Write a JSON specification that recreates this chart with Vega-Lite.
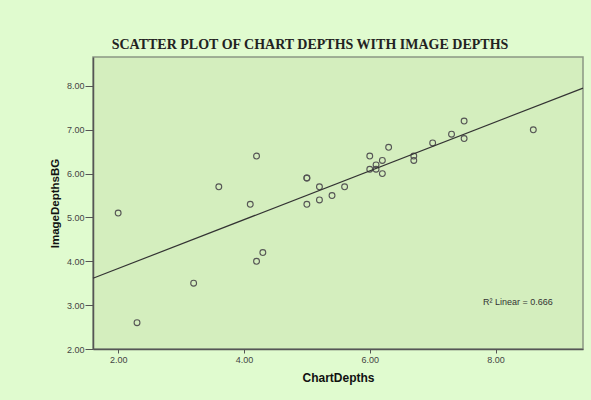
{
  "$schema": "https://vega.github.io/schema/vega-lite/v6.json",
  "width": 490,
  "height": 292,
  "autosize": {"type": "none"},
  "padding": {"left": 93, "top": 57, "right": 8, "bottom": 51},
  "background": "#e0fbcf",
  "title": {
    "text": "SCATTER PLOT OF CHART DEPTHS WITH IMAGE DEPTHS",
    "font": "Liberation Serif",
    "fontSize": 14,
    "fontWeight": "bold",
    "color": "#222222",
    "anchor": "middle",
    "dx": -28,
    "offset": 5
  },
  "config": {
    "view": {"fill": "#d4eebe", "stroke": "#8a9884", "strokeWidth": 1.5},
    "axis": {
      "grid": false,
      "labelFont": "Liberation Sans",
      "labelFontSize": 9,
      "labelColor": "#444444",
      "titleFont": "Liberation Sans",
      "titleColor": "#111111",
      "domainColor": "#555555",
      "domainWidth": 1.5,
      "tickColor": "#555555",
      "tickWidth": 1
    }
  },
  "data": {
    "values": [
      {"ChartDepths": 2.0, "ImageDepthsBG": 5.1},
      {"ChartDepths": 2.3, "ImageDepthsBG": 2.6},
      {"ChartDepths": 3.2, "ImageDepthsBG": 3.5},
      {"ChartDepths": 3.6, "ImageDepthsBG": 5.7},
      {"ChartDepths": 4.1, "ImageDepthsBG": 5.3},
      {"ChartDepths": 4.2, "ImageDepthsBG": 6.4},
      {"ChartDepths": 4.2, "ImageDepthsBG": 4.0},
      {"ChartDepths": 4.3, "ImageDepthsBG": 4.2},
      {"ChartDepths": 5.0, "ImageDepthsBG": 5.9},
      {"ChartDepths": 5.0, "ImageDepthsBG": 5.9},
      {"ChartDepths": 5.0, "ImageDepthsBG": 5.3},
      {"ChartDepths": 5.2, "ImageDepthsBG": 5.7},
      {"ChartDepths": 5.2, "ImageDepthsBG": 5.4},
      {"ChartDepths": 5.4, "ImageDepthsBG": 5.5},
      {"ChartDepths": 5.6, "ImageDepthsBG": 5.7},
      {"ChartDepths": 6.0, "ImageDepthsBG": 6.4},
      {"ChartDepths": 6.0, "ImageDepthsBG": 6.1},
      {"ChartDepths": 6.1, "ImageDepthsBG": 6.2},
      {"ChartDepths": 6.1, "ImageDepthsBG": 6.1},
      {"ChartDepths": 6.2, "ImageDepthsBG": 6.3},
      {"ChartDepths": 6.2, "ImageDepthsBG": 6.0},
      {"ChartDepths": 6.3, "ImageDepthsBG": 6.6},
      {"ChartDepths": 6.7, "ImageDepthsBG": 6.4},
      {"ChartDepths": 6.7, "ImageDepthsBG": 6.3},
      {"ChartDepths": 7.0, "ImageDepthsBG": 6.7},
      {"ChartDepths": 7.3, "ImageDepthsBG": 6.9},
      {"ChartDepths": 7.5, "ImageDepthsBG": 7.2},
      {"ChartDepths": 7.5, "ImageDepthsBG": 6.8},
      {"ChartDepths": 8.6, "ImageDepthsBG": 7.0}
    ]
  },
  "layer": [
    {
      "mark": {"type": "point", "shape": "circle", "filled": false, "size": 34, "stroke": "#555555", "strokeWidth": 1.1, "opacity": 1},
      "encoding": {
        "x": {
          "field": "ChartDepths",
          "type": "quantitative",
          "scale": {"domain": [1.6, 9.39], "nice": false, "zero": false},
          "axis": {"values": [2, 4, 6, 8], "format": ".2f", "title": "ChartDepths", "titleFontSize": 12, "titleFontWeight": "bold", "titlePadding": 8, "tickSize": 4, "labelPadding": 2}
        },
        "y": {
          "field": "ImageDepthsBG",
          "type": "quantitative",
          "scale": {"domain": [2, 8.66], "nice": false, "zero": false},
          "axis": {"values": [2, 3, 4, 5, 6, 7, 8], "format": ".2f", "title": "ImageDepthsBG", "titleFontSize": 11.5, "titleFontWeight": "bold", "titlePadding": 6, "tickSize": 8, "labelPadding": 1}
        }
      }
    },
    {
      "transform": [
        {"regression": "ImageDepthsBG", "on": "ChartDepths", "extent": [1.6, 9.39]}
      ],
      "mark": {"type": "line", "color": "#333333", "strokeWidth": 1.2},
      "encoding": {
        "x": {"field": "ChartDepths", "type": "quantitative"},
        "y": {"field": "ImageDepthsBG", "type": "quantitative"}
      }
    },
    {
      "data": {"values": [{"label": "R² Linear = 0.666"}]},
      "mark": {"type": "text", "align": "left", "baseline": "middle", "font": "Liberation Sans", "fontSize": 9, "color": "#333333"},
      "encoding": {
        "x": {"datum": 7.8, "type": "quantitative"},
        "y": {"datum": 3.07, "type": "quantitative"},
        "text": {"field": "label", "type": "nominal"}
      }
    }
  ]
}
